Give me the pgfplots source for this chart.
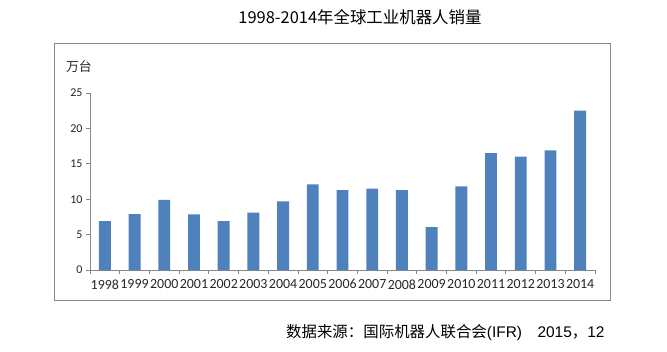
\documentclass[border=0pt]{standalone}
\usepackage{pgfplots}
\pgfplotsset{compat=1.18}
\usepackage{fontspec}
\setmainfont{Carlito}
\newfontfamily\cjk{Noto Sans CJK SC}
\newfontfamily\lsans{Liberation Sans}
\definecolor{barblue}{HTML}{4F81BD}
\definecolor{axgray}{HTML}{868686}
\definecolor{labgray}{HTML}{262626}
\begin{document}
\begin{tikzpicture}[x=1bp,y=1bp]
\useasboundingbox (-90,-81) rectangle (577,270);
\draw[axgray, line width=1bp] (-35,-30) rectangle (520,227);
\node[font=\cjk\fontsize{16.5}{18}\selectfont] at (270,253) {1998-2014年全球工业机器人销量};
\node[anchor=east, font=\cjk\fontsize{15.5}{18}\selectfont] at (518,-63) {数据来源：国际机器人联合会{\lsans(IFR)}\quad {\lsans 2015}，{\lsans 12}};
\node[font=\cjk\fontsize{13}{15}\selectfont, text=labgray] at (-11,203) {万台};
\begin{axis}[at={(0,0)}, anchor=south west, scale only axis,
  width=505bp, height=177bp,
  xmin=-0.5, xmax=16.5, ymin=0, ymax=25,
  ybar, bar width=0.4,
  axis x line*=bottom, axis y line*=left,
  axis line style={axgray, line width=0.8bp},
  ytick={0,5,...,25},
  xtick={0,...,16},
  xticklabels={1998,1999,2000,2001,2002,2003,2004,2005,2006,2007,2008,2009,2010,2011,2012,2013,2014},
  major x tick style={draw=none},
  minor xtick={-0.5,0.5,...,16.5},
  tick style={axgray, line width=0.8bp},
  tick align=outside, major tick length=4bp, minor tick length=4bp,
  /pgf/number format/assume math mode=true,
  yticklabel style={font=\fontsize{12}{14}\selectfont, text=labgray},
  xticklabel style={font=\fontsize{14}{16}\selectfont, text=labgray, inner xsep=0pt, yshift=-2bp},
]
\addplot[fill=barblue, draw=none] coordinates {
(0,6.9) (1,7.9) (2,9.9) (3,7.85) (4,6.9) (5,8.1) (6,9.7) (7,12.1) (8,11.3)
(9,11.5) (10,11.3) (11,6.05) (12,11.8) (13,16.5) (14,16.0) (15,16.9) (16,22.5)};
\end{axis}
\end{tikzpicture}
\end{document}
